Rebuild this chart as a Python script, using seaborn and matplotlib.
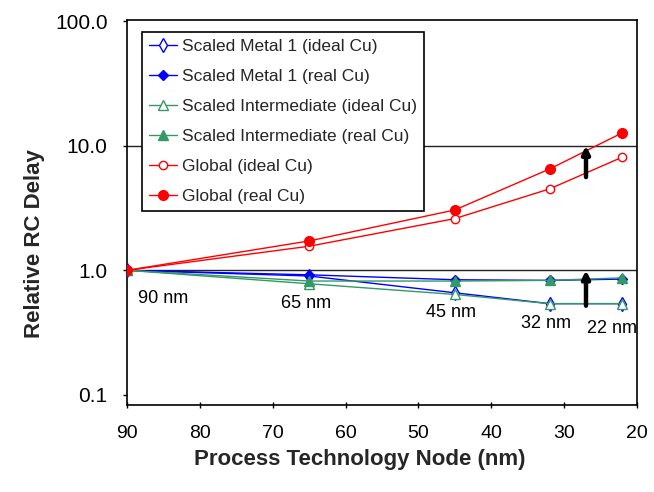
import matplotlib
matplotlib.use("Agg")
import matplotlib.pyplot as plt
import seaborn as sns

# ---- data ----
nodes = [90, 65, 45, 32, 22]
node_labels = ["90 nm", "65 nm", "45 nm", "32 nm", "22 nm"]
node_label_x = [85.1, 65.4, 45.5, 32.5, 23.4]
node_label_y = [0.595, 0.54, 0.458, 0.373, 0.34]

metal1_ideal = [1.0, 0.90, 0.66, 0.54, 0.54]
metal1_real = [1.0, 0.92, 0.84, 0.83, 0.85]
inter_ideal = [1.0, 0.78, 0.64, 0.54, 0.54]
inter_real = [1.0, 0.82, 0.82, 0.83, 0.87]
global_ideal = [1.0, 1.56, 2.6, 4.5, 8.1]
global_real = [1.0, 1.72, 3.05, 6.5, 12.7]

series_labels = ["Scaled Metal 1 (ideal Cu)", "Scaled Metal 1 (real Cu)",
                 "Scaled Intermediate (ideal Cu)", "Scaled Intermediate (real Cu)",
                 "Global (ideal Cu)", "Global (real Cu)"]

y_ticks = [0.1, 1, 10, 100]
y_tick_labels = ["0.1", "1.0", "10.0", "100.0"]
x_ticks = [90, 80, 70, 60, 50, 40, 30, 20]
grid_values = [1, 10]

arrow_node = 27
arrow_upper = (5.6, 10.0)
arrow_lower = (0.52, 1.0)

# ---- plot ----
sns.set_theme(style="white")
plt.rcParams["font.family"] = ["Liberation Sans", "DejaVu Sans"]

fig = plt.figure(figsize=(6.54, 4.92), dpi=100)
ax = fig.add_axes([127 / 654, 1 - 405 / 492, 510 / 654, 385 / 492])
ax.set_yscale("log")

blue = "#0000FF"
green = "#339966"
red = "#FF0000"

styles = [
    (metal1_ideal, blue, "d", "white", 7),
    (metal1_real, blue, "D", blue, 5.5),
    (inter_ideal, green, "^", "white", 7),
    (inter_real, green, "^", green, 7),
    (global_ideal, red, "o", "white", 6),
    (global_real, red, "o", red, 7),
]

for (vals, col, mk, mfc, ms), lab in zip(styles, series_labels):
    sns.lineplot(x=nodes, y=vals, ax=ax, color=col, marker=mk, markersize=ms,
                 markerfacecolor=mfc, markeredgecolor=col, markeredgewidth=1.0,
                 linewidth=1.0, label=lab, zorder=3)

for g in grid_values:
    ax.axhline(g, color="#222222", linewidth=1.0, zorder=1)

for lab, lx, ly in zip(node_labels, node_label_x, node_label_y):
    ax.text(lx, ly, lab, ha="center", va="center", fontsize=13, color="black", zorder=4)

for (y0, y1) in (arrow_upper, arrow_lower):
    ax.annotate("", xy=(arrow_node, y1), xytext=(arrow_node, y0),
                arrowprops=dict(arrowstyle="-|>", lw=3.2, color="black",
                                mutation_scale=11, shrinkA=0, shrinkB=0),
                zorder=5)

ax.set_xlim(90, 20)
ax.set_ylim(0.083, 102)
ax.set_xticks(x_ticks)
ax.set_xticklabels([str(v) for v in x_ticks])
ax.set_yticks(y_ticks)
ax.set_yticklabels(y_tick_labels)
ax.minorticks_off()

ax.tick_params(axis="x", direction="inout", length=5, width=1, pad=12,
               labelsize=14, colors="black", bottom=True)
ax.tick_params(axis="y", direction="out", length=3, width=1, pad=11,
               labelsize=15, colors="black", left=True)

for s in ax.spines.values():
    s.set_color("black")
    s.set_linewidth(1.2)

ax.set_xlabel("Process Technology Node (nm)", fontsize=16, fontweight="bold")
ax.set_ylabel("Relative RC Delay", fontsize=16, fontweight="bold")
ax.xaxis.set_label_coords(0.457, -0.114)
ax.yaxis.set_label_coords(-0.16, 0.42)

leg = ax.legend(loc="upper left", bbox_to_anchor=(0.029, 0.969), borderaxespad=0,
                fontsize=12.5, frameon=True, fancybox=False, framealpha=1,
                edgecolor="black", labelspacing=0.86, handlelength=1.6,
                handletextpad=0.3, borderpad=0.4)
leg.get_frame().set_linewidth(1.2)
leg.set_zorder(6)

fig.savefig("out.png", dpi=100, facecolor="white")
